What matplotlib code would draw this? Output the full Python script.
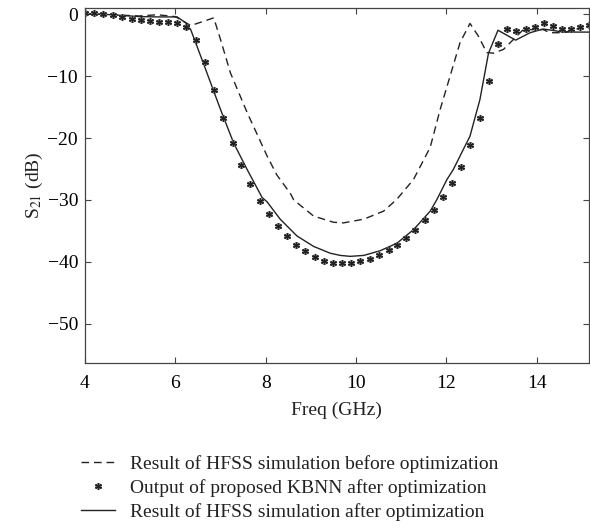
import matplotlib
matplotlib.use("Agg")
import matplotlib.pyplot as plt

# KBNN output (markers)
kbnn_f = [4.0, 4.21, 4.41, 4.62, 4.83, 5.03, 5.23, 5.43, 5.64, 5.83, 6.04, 6.23, 6.45, 6.65,
          6.85, 7.06, 7.27, 7.46, 7.66, 7.87, 8.08, 8.28, 8.47, 8.68, 8.88, 9.08, 9.29, 9.49,
          9.69, 9.89, 10.09, 10.30, 10.51, 10.72, 10.91, 11.11, 11.31, 11.52, 11.72, 11.92,
          12.12, 12.33, 12.53, 12.74, 12.95, 13.14, 13.34, 13.54, 13.75, 13.95, 14.15, 14.35,
          14.55, 14.75, 14.95, 15.15]
kbnn_s = [0.2, 0.2, 0.1, -0.13, -0.45, -0.73, -1.0, -1.16, -1.21, -1.26, -1.42, -2.1, -4.2, -7.8,
          -12.3, -16.7, -20.8, -24.4, -27.4, -30.1, -32.3, -34.2, -35.8, -37.3, -38.3, -39.2,
          -39.8, -40.1, -40.1, -40.1, -39.8, -39.5, -38.95, -38.1, -37.2, -36.2, -34.8, -33.3,
          -31.6, -29.5, -27.3, -24.6, -21.2, -16.7, -10.8, -4.8, -2.4, -2.7, -2.4, -2.1, -1.4,
          -1.85, -2.4, -2.4, -2.1, -1.7]

# HFSS after optimization (solid)
after_f = [4.0, 4.6, 5.2, 5.6, 6.04, 6.23, 6.34, 6.48, 6.70, 7.0, 7.29, 7.59, 7.92, 8.03, 8.32,
           8.69, 9.06, 9.43, 9.65, 9.87, 10.17, 10.53, 10.90, 11.27, 11.64, 11.79, 12.01, 12.15,
           12.52, 12.74, 12.93, 13.14, 13.53, 13.85, 14.14, 14.59, 15.17]
after_s = [0.1, -0.1, -0.4, -0.45, -0.45, -1.4, -2.5, -5.2, -9.5, -15.4, -20.8, -25.1, -29.6,
           -30.3, -33.1, -35.8, -37.5, -38.6, -38.95, -39.1, -38.95, -38.2, -37.0, -34.8, -31.8,
           -29.9, -26.7, -25.1, -19.7, -13.8, -6.3, -2.6, -4.2, -3.0, -2.4, -2.9, -2.9]

# HFSS before optimization (dashed)
before_f = [4.0, 4.6, 5.2, 5.6, 6.0, 6.34, 6.85, 7.0, 7.22, 7.59, 8.03, 8.25, 8.55, 8.62, 9.06,
            9.50, 9.72, 10.17, 10.61, 10.90, 11.27, 11.64, 11.86, 12.08, 12.30, 12.52, 12.71,
            12.89, 13.04, 13.26, 13.48, 13.70, 14.14, 14.29, 14.59, 14.88, 15.17]
before_s = [0.1, -0.1, -0.3, -0.1, -0.4, -1.85, -0.6, -4.1, -9.5, -15.9, -22.9, -26.0, -29.0,
            -30.0, -32.6, -33.6, -33.7, -33.1, -31.8, -29.9, -26.7, -21.5, -15.4, -10.0, -4.6,
            -1.5, -3.6, -6.2, -6.3, -5.7, -4.1, -2.5, -2.5, -3.0, -3.0, -2.4, -1.7]

xticks = [4, 6, 8, 10, 12, 14]
yticks = [0, -10, -20, -30, -40, -50]
labels = ["Result of HFSS simulation before optimization",
          "Output of proposed KBNN after optimization",
          "Result of HFSS simulation after optimization"]

plt.rcParams['font.family'] = ['Liberation Serif', 'DejaVu Serif']
plt.rcParams['mathtext.fontset'] = 'stix'

FS = 14
fig = plt.figure(figsize=(5.9, 5.29), dpi=100)
ax = fig.add_axes([0.144, 0.314, 0.854, 0.671])

c = '#222222'
ld, = ax.plot(before_f, before_s, color=c, lw=1.0, ls=(0, (5.5, 3.5)))
ls, = ax.plot(after_f, after_s, color=c, lw=1.0, ls='-')
m1, = ax.plot(kbnn_f, kbnn_s, ls='none', marker='o', ms=5, mfc='#aaaaaa', mec='none', alpha=0.8)
m2, = ax.plot(kbnn_f, kbnn_s, ls='none', marker=(6, 2, 0), ms=5, mec='#222222', mew=1.0)

ax.set_xlim(4, 15.15)
ax.set_ylim(-56.3, 1.0)
ax.set_xticks(xticks)
ax.set_yticks(yticks)
ax.set_yticklabels(['0' if v == 0 else '\u2212%d' % abs(v) for v in yticks])
ax.tick_params(direction='in', length=4, width=0.8, labelsize=FS, color='#444444', pad=5)
ax.tick_params(axis='x', pad=9)
ax.tick_params(top=True, right=True)
for sp in ax.spines.values():
    sp.set_linewidth(0.9)
    sp.set_color('#444444')

ax.set_xlabel('Freq (GHz)', fontsize=FS, labelpad=7, color='#222222')
ax.set_ylabel('S$_{21}$ (dB)', fontsize=FS, labelpad=2, color='#222222')

fig.legend([ld, (m1, m2), ls], labels, loc='upper left', bbox_to_anchor=(0.137, 0.14),
           bbox_transform=fig.transFigure, frameon=False, fontsize=FS,
           handlelength=1.75, handletextpad=0.77, labelspacing=0.32, borderaxespad=0,
           borderpad=0, labelcolor='#222222')

fig.savefig('out.png', dpi=100)
